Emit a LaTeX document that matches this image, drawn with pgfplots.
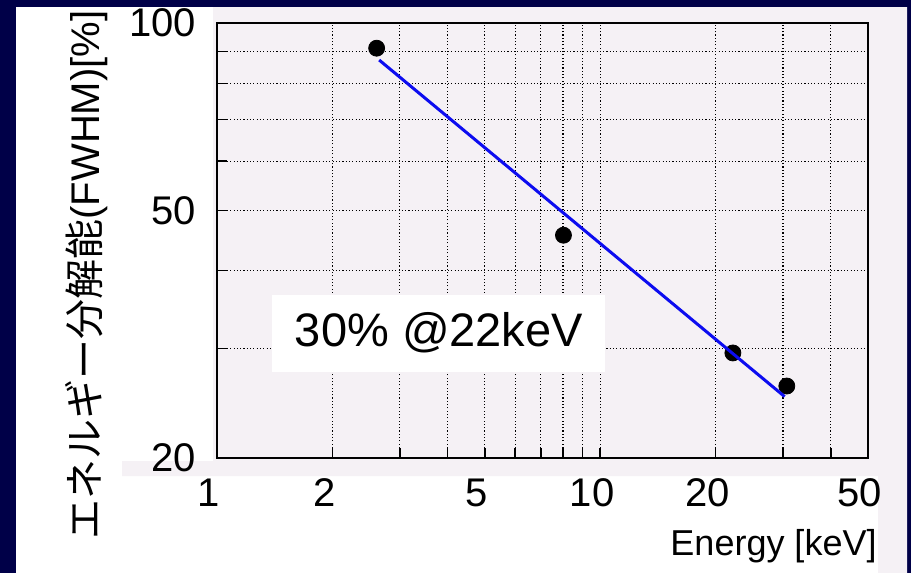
\documentclass[border=0pt]{standalone}
\usepackage{pgfplots}
\pgfplotsset{compat=1.18}
\usepackage{fontspec}
\setmainfont{Liberation Sans}
\newfontfamily\cjk{Noto Sans CJK JP}

\definecolor{navy}{RGB}{0,0,72}
\definecolor{panel}{RGB}{245,241,245}
\definecolor{fitblue}{RGB}{12,12,240}

% measured energy resolution (FWHM, %) vs. X-ray energy (keV)
\pgfplotstableread{
E     R
2.61  91.1
8.02  45.6
22.2  29.5
30.7  26.1
}\measured

% power-law fit, straight on log-log axes
\pgfplotstableread{
E     R
2.65  87.2
30.3  25.1
}\fitline

\begin{document}
\begin{tikzpicture}
\useasboundingbox (0,0) rectangle (455.5pt,-286.5pt);
% slide backdrop: navy frame, white label area, light panel behind the plot
\begin{scope}[x=0.5pt,y=-0.5pt]
  \fill[navy] (0,0) rectangle (911,573);
  \fill[white] (16,7) rectangle (907,573);
  \fill[panel] (213,7) -- (907,7) -- (907,573) -- (878,573) -- (878,476)
     -- (122,476) -- (122,461) -- (213,461) -- cycle;
\end{scope}

\begin{axis}[
  at={(108.5pt,-229pt)}, anchor=south west,
  width=325.5pt, height=217.5pt, scale only axis,
  clip mode=individual,
  xmode=log, ymode=log,
  xmin=1, xmax=50, ymin=20, ymax=100,
  xtick={1,2,5,10,20,50}, xticklabels={1,2,5,10,20,50},
  minor xtick={3,4,6,7,8,9,30,40},
  ytick={20,50,100}, yticklabels={20,50,100},
  minor ytick={30,40,60,70,80,90},
  grid=both,
  grid style={black, line width=0.55pt, dash pattern=on 0.55pt off 1.1pt},
  major grid style={black, line width=0.55pt, dash pattern=on 0.55pt off 1.1pt},
  tick pos=left, tick align=inside,
  major tick length=5pt, minor tick length=5pt,
  tick style={black, line width=0.8pt},
  axis line style={black, line width=0.8pt},
  ticklabel style={font=\fontsize{20}{24}\selectfont},
  yticklabel style={xshift=-7pt},
  xticklabel style={yshift=-7pt, xshift=-4pt},
  xlabel={Energy [keV]},
  xlabel style={at={(axis description cs:1.0138,-0.225)}, anchor=base east,
    inner sep=0pt, font=\fontsize{18}{22}\selectfont},
]
\addplot[only marks, mark=*, mark size=4pt, black] table[x=E, y=R] {\measured};
\addplot[fitblue, line width=1.5pt] table[x=E, y=R] {\fitline};
\node[fill=white, minimum width=166.5pt, minimum height=38.5pt, inner sep=0pt,
      font=\fontsize{23.5}{28}\selectfont]
  at (axis description cs:0.341,0.287) {30\% @22keV};
\end{axis}
% vertical axis title, in the white strip left of the tick labels
\node[rotate=90, anchor=center, inner sep=0pt, text height=15pt, text depth=4pt,
      font=\fontsize{20}{24}\selectfont]
  at (44pt,-137.5pt) {{\cjk エネルギー分解能}(FWHM)[\%]};
\end{tikzpicture}
\end{document}
